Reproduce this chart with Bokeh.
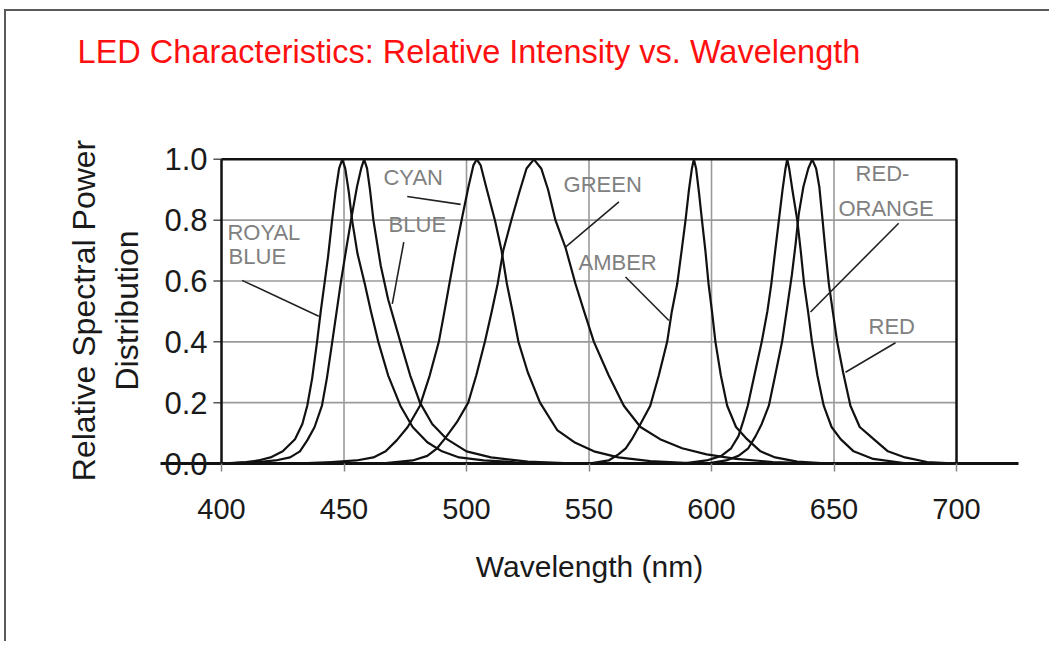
from bokeh.plotting import figure
from bokeh.models import Range1d, FixedTicker, PrintfTickFormatter, LinearAxis
from bokeh.embed import file_html
from bokeh.resources import INLINE
from bokeh.core.properties import value

# ---------------- data ----------------
x_ticks = [400, 450, 500, 550, 600, 650, 700]
y_ticks = [0.0, 0.2, 0.4, 0.6, 0.8, 1.0]

royal_blue_nm = [400, 410, 415, 420, 425, 430, 433, 435, 437, 439, 440.5, 442, 443.5, 445, 446.5, 448, 449.3,
                 450.5, 452, 453.3, 455.5, 458.5, 461, 464, 468, 473, 478, 484, 490, 497, 507, 520, 540]
royal_blue_val = [0.0, 0.005, 0.01, 0.02, 0.04, 0.08, 0.13, 0.19, 0.28, 0.40, 0.50, 0.59, 0.68, 0.79, 0.89, 0.97, 1.0,
                  0.97, 0.89, 0.80, 0.69, 0.59, 0.50, 0.40, 0.29, 0.19, 0.12, 0.07, 0.04, 0.02, 0.01, 0.004, 0.0]

blue_nm = [400, 415, 422, 428, 432, 435, 438, 441, 443, 445.2, 447, 448.6, 451, 453.3, 455.3, 457, 458.2,
           459.4, 460.6, 462, 465, 468, 473, 477, 481, 486, 492, 500, 510, 525, 545]
blue_val = [0.0, 0.005, 0.01, 0.02, 0.04, 0.076, 0.12, 0.19, 0.28, 0.40, 0.50, 0.59, 0.71, 0.82, 0.91, 0.97, 1.0,
            0.97, 0.90, 0.80, 0.65, 0.54, 0.40, 0.29, 0.20, 0.13, 0.08, 0.04, 0.02, 0.006, 0.0]

cyan_nm = [430, 445, 455, 462, 467, 471.5, 476, 481, 485, 488.7, 491, 493, 495.5, 498.5, 500.8, 502.8, 504.2,
           505.8, 508, 511.6, 514.3, 516.5, 518.8, 521.2, 525, 530, 537, 544, 552, 562, 575, 595]
cyan_val = [0.0, 0.005, 0.01, 0.02, 0.04, 0.076, 0.12, 0.19, 0.29, 0.40, 0.50, 0.59, 0.70, 0.82, 0.91, 0.98, 1.0,
            0.98, 0.91, 0.80, 0.70, 0.59, 0.50, 0.40, 0.30, 0.20, 0.11, 0.07, 0.04, 0.02, 0.008, 0.0]

green_nm = [465, 478, 484, 488, 491, 496, 500.7, 504, 507.5, 510.3, 512.7, 515, 518.3, 521.5, 524.5, 527.5,
            530.5, 533.3, 536.3, 540.4, 544.5, 548, 552, 558, 564.2, 571, 579, 588, 598, 610, 625, 645]
green_val = [0.0, 0.01, 0.025, 0.05, 0.08, 0.135, 0.20, 0.29, 0.40, 0.50, 0.59, 0.70, 0.80, 0.89, 0.97, 1.0,
             0.97, 0.90, 0.80, 0.71, 0.59, 0.50, 0.40, 0.29, 0.19, 0.12, 0.08, 0.05, 0.03, 0.015, 0.005, 0.0]

amber_nm = [550, 558, 562, 565, 567.5, 571, 575, 578.5, 581.9, 583.8, 586, 587.8, 589.4, 590.8, 592, 592.8,
            593.7, 594.9, 596.1, 597.5, 598.8, 600.2, 601.6, 603.8, 606.4, 610, 614.5, 620, 626, 635, 648]
amber_val = [0.0, 0.01, 0.03, 0.05, 0.08, 0.13, 0.19, 0.29, 0.40, 0.50, 0.59, 0.70, 0.80, 0.90, 0.97, 1.0,
             0.97, 0.89, 0.80, 0.70, 0.59, 0.50, 0.40, 0.29, 0.19, 0.12, 0.08, 0.04, 0.02, 0.006, 0.0]

red_orange_nm = [588, 598, 604, 608, 611, 613, 614.8, 617.5, 620.5, 622.8, 624.4, 626, 627.5, 629, 630.2, 630.9,
                 631.7, 633, 635, 636.4, 637.8, 639.4, 641, 643.2, 645.8, 649, 652.7, 658, 666, 680]
red_orange_val = [0.0, 0.01, 0.025, 0.05, 0.09, 0.14, 0.19, 0.29, 0.40, 0.50, 0.59, 0.70, 0.80, 0.90, 0.97, 1.0,
                  0.97, 0.90, 0.80, 0.70, 0.59, 0.50, 0.40, 0.29, 0.19, 0.12, 0.08, 0.04, 0.015, 0.0]

red_nm = [598, 606, 611, 615, 618, 620.5, 623.4, 626, 628.8, 631, 632.8, 634.3, 635.6, 637.5, 639.5, 641.1,
          642.7, 644, 645.1, 646.5, 647.9, 649.5, 651.3, 653.7, 656.7, 660.5, 666.2, 672, 679, 688, 700]
red_val = [0.0, 0.01, 0.025, 0.05, 0.09, 0.13, 0.19, 0.29, 0.40, 0.52, 0.62, 0.72, 0.82, 0.91, 0.97, 1.0,
           0.97, 0.91, 0.82, 0.70, 0.59, 0.50, 0.40, 0.30, 0.19, 0.12, 0.08, 0.04, 0.02, 0.005, 0.0]

series = [(royal_blue_nm, royal_blue_val), (blue_nm, blue_val), (cyan_nm, cyan_val), (green_nm, green_val),
          (amber_nm, amber_val), (red_orange_nm, red_orange_val), (red_nm, red_val)]

# callout labels and leader lines
label_text = ["ROYAL", "BLUE", "CYAN", "BLUE", "GREEN", "AMBER", "RED-", "ORANGE", "RED"]
label_x = [402.4, 402.9, 466.1, 468.2, 539.6, 545.7, 658.8, 651.8, 664.1]
label_y = [0.761, 0.679, 0.939, 0.786, 0.918, 0.66, 0.952, 0.837, 0.451]

leader_x0 = [408.4, 475.8, 474.4, 562.2, 564.9, 676.4, 675.1]
leader_y0 = [0.602, 0.878, 0.728, 0.86, 0.613, 0.79, 0.397]
leader_x1 = [439.7, 497.6, 469.7, 540.4, 582.6, 640.4, 654.7]
leader_y1 = [0.484, 0.852, 0.525, 0.711, 0.47, 0.498, 0.30]

FONT = "Liberation Sans"
TITLE = "LED Characteristics: Relative Intensity vs. Wavelength"
TITLE_ANCHOR = 501  # horizontal centre of the title, in nm

p = figure(width=1045, height=632, output_backend="svg", toolbar_location=None, title=None,
           x_range=Range1d(375.1, 725.3), y_range=Range1d(0.0, 1.006),
           min_border_left=154, min_border_right=33, min_border_top=146, min_border_bottom=180)
p.styles = {"border-top": "2px solid #5a5a5a", "border-left": "2px solid #5a5a5a",
            "margin-left": "4px", "margin-top": "9px"}
p.outline_line_color = None
p.background_fill_color = "white"
p.border_fill_color = "white"
p.xgrid.visible = False
p.ygrid.visible = False

# title, drawn as the single tick label of an otherwise empty axis above the plot box
top_axis = LinearAxis(ticker=FixedTicker(ticks=[TITLE_ANCHOR]), major_label_overrides={TITLE_ANCHOR: TITLE},
                      axis_line_color=None, major_tick_out=0, major_tick_in=0, major_tick_line_color=None,
                      minor_tick_out=0, minor_tick_in=0, minor_tick_line_color=None,
                      major_label_text_font=FONT, major_label_text_font_size="32.5px",
                      major_label_text_font_style="normal", major_label_text_color="#ff1010",
                      major_label_standoff=88)
p.add_layout(top_axis, "above")

# x axis
xa = p.below[0]
xa.ticker = FixedTicker(ticks=x_ticks)
xa.axis_label = "Wavelength (nm)"
xa.axis_label_text_font = FONT
xa.axis_label_text_font_size = "30px"
xa.axis_label_text_font_style = "normal"
xa.axis_label_text_color = "#1a1a1a"
xa.axis_label_standoff = 28
xa.major_label_text_font = FONT
xa.major_label_text_font_size = "29px"
xa.major_label_text_color = "#1a1a1a"
xa.major_label_standoff = 27
xa.axis_line_width = 3
xa.axis_line_color = "#111111"
xa.major_tick_out = 8
xa.major_tick_in = 0
xa.major_tick_line_color = "#888888"
xa.major_tick_line_width = 1.5
xa.minor_tick_line_color = None

# y axis: labels shifted right so they sit beside the 400 nm line
ya = p.left[0]
ya.ticker = FixedTicker(ticks=y_ticks)
ya.formatter = PrintfTickFormatter(format="%.1f")
ya.axis_label = "Relative Spectral Power\nDistribution"
ya.axis_label_text_font = FONT
ya.axis_label_text_font_size = "32px"
ya.axis_label_text_font_style = "normal"
ya.axis_label_text_color = "#1a1a1a"
ya.axis_label_standoff = 16
ya.major_label_text_font = FONT
ya.major_label_text_font_size = "31px"
ya.major_label_text_color = "#1a1a1a"
ya.major_label_standoff = -47
ya.axis_line_color = None
ya.major_tick_out = 0
ya.major_tick_in = 0
ya.major_tick_line_color = None
ya.minor_tick_line_color = None

# grid lines (only inside 400-700 / 0-1)
gx = x_ticks[1:-1]
gy = y_ticks[1:-1]
p.segment(x0=gx, x1=gx, y0=[y_ticks[0]] * len(gx), y1=[y_ticks[-1]] * len(gx),
          line_color="#9a9a9a", line_width=1.6)
p.segment(x0=[x_ticks[0]] * len(gy), x1=[x_ticks[-1]] * len(gy), y0=gy, y1=gy,
          line_color="#9a9a9a", line_width=1.6)

# short y ticks left of the 400 nm line
p.segment(x0=[x_ticks[0] - 3.3] * len(y_ticks), x1=[x_ticks[0]] * len(y_ticks), y0=y_ticks, y1=y_ticks,
          line_color="#555555", line_width=1.5)

# spectra
for nm, val in series:
    p.line(nm, val, line_color="#111111", line_width=2.2, line_join="round")

# plot box: left, top and right
p.line([x_ticks[0], x_ticks[0]], [y_ticks[0], y_ticks[-1]], line_color="#111111", line_width=2.5)
p.line([x_ticks[0], x_ticks[-1]], [y_ticks[-1], y_ticks[-1]], line_color="#111111", line_width=2.5)
p.line([x_ticks[-1], x_ticks[-1]], [y_ticks[0], y_ticks[-1]], line_color="#111111", line_width=2.5)

# leaders and labels
p.segment(x0=leader_x0, y0=leader_y0, x1=leader_x1, y1=leader_y1, line_color="#222222", line_width=1.6)
p.text(x=label_x, y=label_y, text=label_text, text_font=value(FONT), text_font_size=value("22px"),
       text_color="#808080", text_align="left", text_baseline="middle")

open("out.html", "w").write(file_html(p, INLINE))
